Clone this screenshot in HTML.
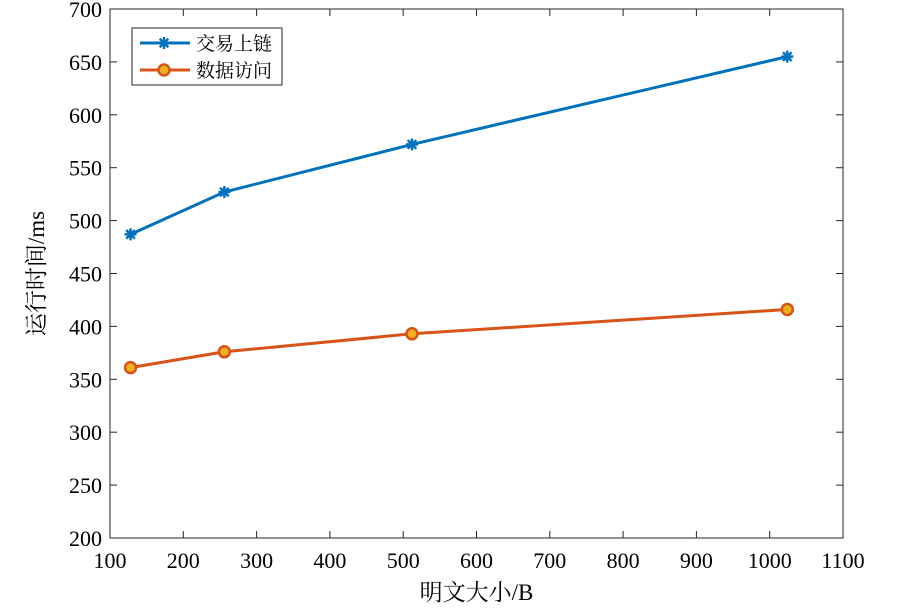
<!DOCTYPE html>
<html><head><meta charset="utf-8"><style>
body{margin:0;background:#fff}
svg text{font-family:"Liberation Serif","Noto Serif CJK SC",serif;fill:#000}
</style></head><body>
<svg id="chart" width="904" height="607" xmlns="http://www.w3.org/2000/svg">
<g id="grid"></g><g id="series"></g><g id="legend"></g>
</svg>
<script>
const categories=[128,256,512,1024];
const txValues=[487,527,572,655];
const accessValues=[361,376,393,416];
const xTicks=[100,200,300,400,500,600,700,800,900,1000,1100];
const yTicks=[200,250,300,350,400,450,500,550,600,650,700];
const L=110,R=843,T=9,B=538;
const xs=v=>L+(v-100)/1000*(R-L);
const ys=v=>B-(v-200)/500*(B-T);
const NS="http://www.w3.org/2000/svg";
function mk(tag,attrs,parent){const e=document.createElementNS(NS,tag);for(const k in attrs)e.setAttribute(k,attrs[k]);parent.appendChild(e);return e;}
const g=document.getElementById('grid'),s=document.getElementById('series'),lg=document.getElementById('legend');
const ax=mk('rect',{x:L,y:T,width:R-L,height:B-T,fill:'none',stroke:'#262626','stroke-width':1},g);


xTicks.forEach(v=>{
 mk('line',{x1:xs(v),x2:xs(v),y1:B,y2:B-7,stroke:'#262626'},g);
 mk('line',{x1:xs(v),x2:xs(v),y1:T,y2:T+7,stroke:'#262626'},g);
 const t=mk('text',{x:xs(v),y:B+30,'text-anchor':'middle','font-size':22},g);t.textContent=v;
 
 
});
yTicks.forEach(v=>{
 mk('line',{x1:L,x2:L+7,y1:ys(v),y2:ys(v),stroke:'#262626'},g);
 mk('line',{x1:R,x2:R-7,y1:ys(v),y2:ys(v),stroke:'#262626'},g);
 const t=mk('text',{x:L-8,y:ys(v)+8,'text-anchor':'end','font-size':22},g);t.textContent=v;
 
 
});
const xt=mk('text',{x:(L+R)/2,y:600,'text-anchor':'middle','font-size':23},g);xt.textContent='明文大小/B';


const yt=mk('text',{x:0,y:0,'text-anchor':'middle','font-size':23,transform:`translate(44,${(T+B)/2}) rotate(-90)`},g);yt.textContent='运行时间/ms';


function star(x,y,p){const gg=mk('g',{stroke:'#0072BD','stroke-width':2.5},p);
 [[0,6],[6,0],[4.3,4.3],[4.3,-4.3]].forEach(([a,b])=>mk('line',{x1:x-a,y1:y-b,x2:x+a,y2:y+b},gg));return gg;}
function circ(x,y,p){return mk('circle',{cx:x,cy:y,r:5.5,fill:'#EDB120',stroke:'#D95319','stroke-width':2.5},p);}
const l1=mk('polyline',{points:categories.map((c,i)=>xs(c)+','+ys(txValues[i])).join(' '),fill:'none',stroke:'#0072BD','stroke-width':3},s);


categories.forEach((c,i)=>{const m=star(xs(c),ys(txValues[i]),s);
 
 });
const l2=mk('polyline',{points:categories.map((c,i)=>xs(c)+','+ys(accessValues[i])).join(' '),fill:'none',stroke:'#D95319','stroke-width':3},s);


categories.forEach((c,i)=>{const m=circ(xs(c),ys(accessValues[i]),s);
 
 });
const box=mk('rect',{x:132,y:28,width:150,height:57,fill:'#fff',stroke:'#262626'},lg);


mk('line',{x1:140,x2:190,y1:43,y2:43,stroke:'#0072BD','stroke-width':3},lg);star(164,43,lg);
const t1=mk('text',{x:196,y:50,'font-size':19},lg);t1.textContent='交易上链';


mk('line',{x1:140,x2:190,y1:70,y2:70,stroke:'#D95319','stroke-width':3},lg);circ(164,70,lg);
const t2=mk('text',{x:196,y:77,'font-size':19},lg);t2.textContent='数据访问';


</script>
</body></html>
